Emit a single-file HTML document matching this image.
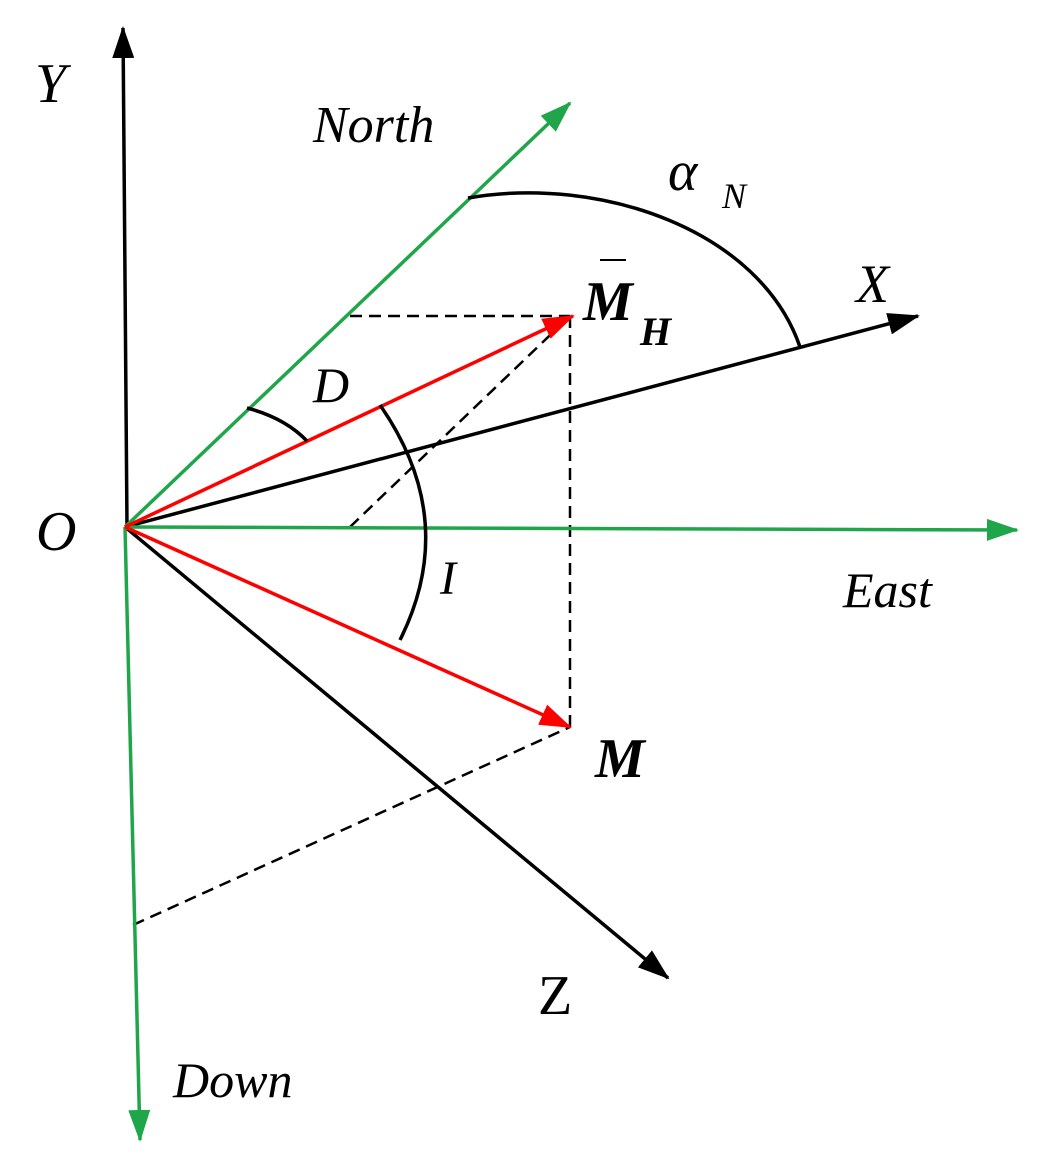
<!DOCTYPE html>
<html><head><style>body{margin:0;background:#fff}svg{display:block}text{font-family:"Liberation Serif",serif;font-style:italic}</style></head>
<body>
<svg width="1044" height="1164" viewBox="0 0 1044 1164" xmlns="http://www.w3.org/2000/svg">
<defs>
<marker id="k" markerWidth="32" markerHeight="22" refX="30" refY="11" orient="auto" markerUnits="userSpaceOnUse" viewBox="0 0 32 22"><path d="M0,0 L32,11 L0,22 Z" fill="#000"/></marker>
<marker id="g" markerWidth="32" markerHeight="22" refX="30" refY="11" orient="auto" markerUnits="userSpaceOnUse" viewBox="0 0 32 22"><path d="M0,0 L32,11 L0,22 Z" fill="#1fa64a"/></marker>
<marker id="r" markerWidth="32" markerHeight="22" refX="30" refY="11" orient="auto" markerUnits="userSpaceOnUse" viewBox="0 0 32 22"><path d="M0,0 L32,11 L0,22 Z" fill="#f00"/></marker>
</defs>
<style>.k{stroke:#000;stroke-width:3.5;fill:none}.g{stroke:#1fa64a;stroke-width:3.5;fill:none}.r{stroke:#f00;stroke-width:3.5;fill:none}.d{stroke:#000;stroke-width:2.5;stroke-dasharray:12,7;fill:none}</style>
<line class="d" x1="350" y1="316" x2="570" y2="316"/>
<line class="d" x1="570" y1="316" x2="570" y2="727"/>
<line class="d" x1="350" y1="527" x2="570" y2="316"/>
<line class="d" x1="133" y1="925" x2="570" y2="727"/>
<line class="k" x1="127" y1="527" x2="123" y2="28" marker-end="url(#k)"/>
<line class="k" x1="125" y1="527" x2="918" y2="316" marker-end="url(#k)"/>
<line class="k" x1="125" y1="527" x2="668" y2="978" marker-end="url(#k)"/>
<line class="g" x1="125" y1="527" x2="570" y2="103" marker-end="url(#g)"/>
<line class="g" x1="125" y1="527" x2="1017" y2="530" marker-end="url(#g)"/>
<line class="g" x1="125" y1="527" x2="140" y2="1140" marker-end="url(#g)"/>
<line class="r" x1="125" y1="527" x2="573" y2="316" marker-end="url(#r)"/>
<line class="r" x1="125" y1="527" x2="570" y2="727" marker-end="url(#r)"/>
<path class="k" d="M468,198 C600,175 760,230 800,347"/>
<path class="k" d="M247,408 Q285,418 307,441"/>
<path class="k" d="M380,405 Q460,520 400,640"/>
<text x="35" y="102" font-size="56">Y</text>
<text x="313" y="142" font-size="52">North</text>
<text x="668" y="190" font-size="56">α</text><text x="722" y="208" font-size="36">N</text>
<text x="856" y="302" font-size="54">X</text>
<line x1="600" y1="260" x2="626" y2="260" stroke="#000" stroke-width="2"/>
<text x="583" y="320" font-size="56" font-weight="bold">M</text><text x="640" y="345" font-size="40" font-weight="bold">H</text>
<text x="313" y="402" font-size="50">D</text>
<text x="36" y="550" font-size="56">O</text>
<text x="440" y="594" font-size="48">I</text>
<text x="843" y="607" font-size="50">East</text>
<text x="595" y="777" font-size="56" font-weight="bold">M</text>
<text x="538" y="1014" font-size="56" style="font-style:normal">Z</text>
<text x="173" y="1097" font-size="50">Down</text>
</svg>
</body></html>
